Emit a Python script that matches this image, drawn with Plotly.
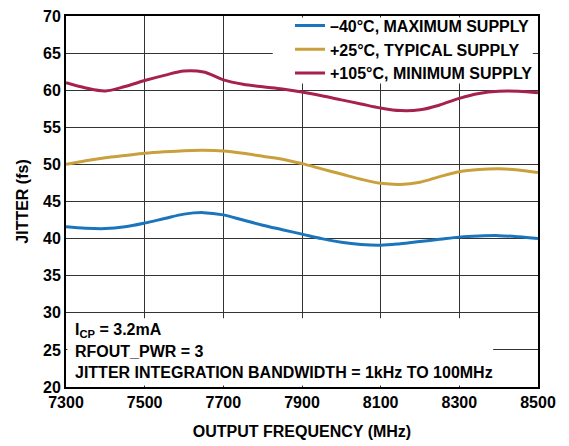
import plotly.graph_objects as go

freq = [7300, 7350, 7400, 7450, 7500, 7550, 7600, 7650, 7700, 7750, 7800, 7850, 7900,
        7950, 8000, 8050, 8100, 8150, 8200, 8250, 8300, 8350, 8400, 8450, 8500]
jit_m40 = [41.6, 41.4, 41.35, 41.6, 42.1, 42.7, 43.3, 43.5, 43.2, 42.5, 41.8, 41.2, 40.6,
           40.0, 39.5, 39.2, 39.1, 39.3, 39.6, 39.9, 40.2, 40.35, 40.4, 40.25, 40.0]
jit_25 = [50.0, 50.5, 50.9, 51.2, 51.5, 51.7, 51.85, 51.9, 51.8, 51.5, 51.1, 50.7, 50.1,
          49.4, 48.7, 48.0, 47.45, 47.3, 47.6, 48.35, 49.0, 49.3, 49.4, 49.25, 48.9]
jit_105 = [61.0, 60.3, 59.9, 60.5, 61.3, 62.0, 62.6, 62.45, 61.4, 60.8, 60.45, 60.15, 59.75,
           59.25, 58.7, 58.15, 57.6, 57.25, 57.35, 58.0, 58.9, 59.55, 59.85, 59.85, 59.65]

series_names = ["–40°C, MAXIMUM SUPPLY", "+25°C, TYPICAL SUPPLY", "+105°C, MINIMUM SUPPLY"]
series_data = [jit_m40, jit_25, jit_105]
colors = ["#1B75BC", "#C9A03C", "#A6214B"]

x_ticks = [7300, 7500, 7700, 7900, 8100, 8300, 8500]
y_ticks = [20, 25, 30, 35, 40, 45, 50, 55, 60, 65, 70]

font_family = "Liberation Sans, Arial, sans-serif"

fig = go.Figure()
for name, data, c in zip(series_names, series_data, colors):
    fig.add_trace(go.Scatter(x=freq, y=data, mode="lines", name="<b>" + name + "</b>",
                             line=dict(color=c, width=3, shape="spline", smoothing=1.0)))

# white boxes hiding gridlines behind the legend and the notes
fig.add_shape(type="rect", xref="paper", yref="paper", x0=0.003, x1=0.905, y0=0.004, y1=0.185,
              fillcolor="white", line=dict(width=0), layer="above")
fig.add_shape(type="rect", xref="paper", yref="paper", x0=0.438, x1=0.989, y0=0.818, y1=0.996,
              fillcolor="white", line=dict(width=0), layer="above")

notes = ["I<sub>CP</sub> = 3.2mA", "RFOUT_PWR = 3", "JITTER INTEGRATION BANDWIDTH = 1kHz TO 100MHz"]
note_y = [27.6, 24.85, 21.95]
for t, yv in zip(notes, note_y):
    fig.add_annotation(x=7317, y=yv, xref="x", yref="y", text="<b>" + t + "</b>", showarrow=False,
                       xanchor="left", yanchor="middle",
                       font=dict(family=font_family, size=16, color="black"))

axis_common = dict(showline=True, linecolor="black", linewidth=2, mirror=True,
                   showgrid=True, gridcolor="#333333", gridwidth=1, ticks="",
                   tickfont=dict(family=font_family, size=16, color="black"), zeroline=False)

fig.update_xaxes(range=[7300, 8500], tickvals=x_ticks, ticktext=["<b>%d</b>" % v for v in x_ticks],
                 title=dict(text="<b>OUTPUT FREQUENCY (MHz)</b>", font=dict(family=font_family, size=16, color="black"),
                            standoff=16), **axis_common)
fig.update_yaxes(range=[20, 70], tickvals=y_ticks, ticktext=["<b>%d</b>" % v for v in y_ticks],
                 title=dict(text="<b>JITTER (fs)</b>", font=dict(family=font_family, size=16, color="black"),
                            standoff=10), **axis_common)

fig.update_layout(
    width=569, height=446,
    margin=dict(l=66, r=31, t=8, b=58),
    plot_bgcolor="white", paper_bgcolor="white",
    font=dict(family=font_family, color="black"),
    legend=dict(x=1, y=1.02, xanchor="right", yanchor="top", bgcolor="rgba(0,0,0,0)",
                font=dict(family=font_family, size=16, color="black"),
                tracegroupgap=0, itemwidth=30),
    showlegend=True,
)

fig.write_html("out.html")
